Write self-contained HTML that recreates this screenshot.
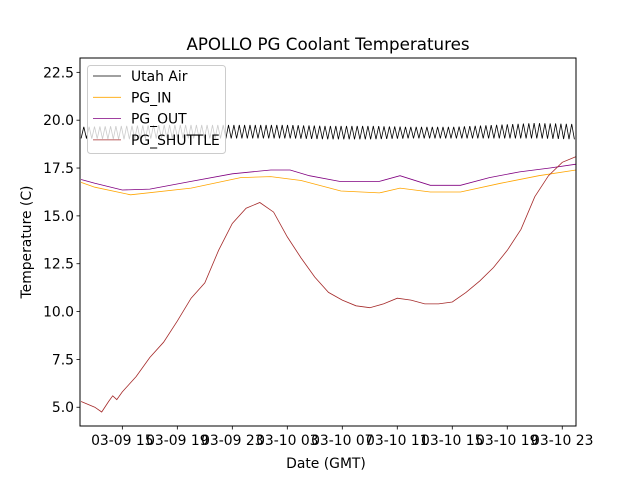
<!DOCTYPE html>
<html><head><meta charset="utf-8"><style>
html,body{margin:0;padding:0;background:#fff;width:640px;height:480px;overflow:hidden}
svg{display:block;font-family:"DejaVu Sans","Liberation Sans",sans-serif}
</style></head><body>
<svg id="chart" width="640" height="480" viewBox="0 0 640 480">
<rect width="640" height="480" fill="#fff"/>
<text x="328" y="50" font-size="16.7" text-anchor="middle">APOLLO PG Coolant Temperatures</text>
<g id="plot"></g>
<g id="axes"></g>
<text x="326" y="468" font-size="13.9" text-anchor="middle">Date (GMT)</text>
<text transform="translate(31,242) rotate(-90)" font-size="13.9" text-anchor="middle">Temperature (C)</text>
</svg>
<script>
// hours since 03-09 12:00
const xTickHours = [3,7,11,15,19,23,27,31,35];
const xTickLabels = ["03-09 15","03-09 19","03-09 23","03-10 03","03-10 07","03-10 11","03-10 15","03-10 19","03-10 23"];
const yTicks = [5.0,7.5,10.0,12.5,15.0,17.5,20.0,22.5];

const shuttleHours = [0,1,1.5,2,2.3,2.6,3,4,5,6,7,8,9,10,11,12,13,14,15,16,17,18,19,20,21,22,23,24,25,26,27,28,29,30,31,32,33,34,35,36];
const shuttleVals = [5.3,5.0,4.75,5.3,5.6,5.4,5.8,6.6,7.6,8.4,9.5,10.7,11.5,13.2,14.6,15.4,15.7,15.2,13.9,12.8,11.8,11.0,10.6,10.3,10.2,10.4,10.7,10.6,10.4,10.4,10.5,11.0,11.6,12.3,13.2,14.3,16.0,17.1,17.8,18.1];

const outHours = [0,1,3,5,8,11,13.8,15.2,16.6,18.8,21.7,23.2,25.4,27.6,29.7,31.9,34.1,36];
const outVals = [16.9,16.7,16.35,16.4,16.8,17.2,17.4,17.4,17.1,16.8,16.8,17.1,16.6,16.6,17.0,17.3,17.5,17.7];

const inHours = [0,1,3.6,8,11.6,13.8,16,18.9,21.7,23.2,25.4,27.6,30.5,33.3,36];
const inVals = [16.75,16.5,16.1,16.45,17.0,17.05,16.85,16.3,16.2,16.45,16.25,16.25,16.7,17.1,17.4];

const airHours = [0,3,6,9,12,15,18,21,24,27,30,33,36];
const airCenter = [19.35,19.35,19.4,19.4,19.4,19.4,19.35,19.35,19.35,19.35,19.4,19.45,19.4];
const airSwing = [0.3,0.35,0.35,0.35,0.35,0.35,0.35,0.35,0.3,0.3,0.35,0.4,0.4];

const L=80,R=576,T=58,B=426;
const X0=-0.08,X1=36.0,Y0=4.02,Y1=23.25;
const xs=h=>L+(h-X0)/(X1-X0)*(R-L);
const ys=v=>B-(v-Y0)/(Y1-Y0)*(B-T);
const NS="http://www.w3.org/2000/svg";
const plot=document.getElementById('plot'), axes=document.getElementById('axes');
function mk(tag,attrs,parent){const e=document.createElementNS(NS,tag);for(const k in attrs)e.setAttribute(k,attrs[k]);parent.appendChild(e);return e;}
function interp(hs,vs,h){for(let i=1;i<hs.length;i++){if(h<=hs[i]){const t=(h-hs[i-1])/(hs[i]-hs[i-1]);return vs[i-1]+t*(vs[i]-vs[i-1]);}}return vs[vs.length-1];}
function poly(hs,vs,color,name){
  const d=hs.map((h,i)=>(i?'L':'M')+xs(h).toFixed(1)+','+ys(vs[i]).toFixed(1)).join('');
  const p=mk('path',{d:d,fill:'none',stroke:color,'stroke-width':0.8},plot);
  
  
}
// Utah Air zigzag
(function(){
  const pts=[];let k=0;
  for(let h=0;h<=36;h+=0.195){const c=interp(airHours,airCenter,h),s=interp(airHours,airSwing,h);pts.push([h,c+(k%2?s:-s)]);k++;}
  poly(pts.map(p=>p[0]),pts.map(p=>p[1]),'#000','series-utah-air');
})();
poly(inHours,inVals,'orange','series-pg-in');
poly(outHours,outVals,'purple','series-pg-out');
poly(shuttleHours,shuttleVals,'#a52a2a','series-pg-shuttle');

// frame
const fr=mk('rect',{x:L,y:T,width:R-L,height:B-T,fill:'none',stroke:'#000','stroke-width':1},axes);


yTicks.forEach(v=>{
  const y=ys(v);
  const t=mk('line',{x1:L-3.5,x2:L,y1:y,y2:y,stroke:'#000','stroke-width':0.8},axes);
  
  
  const tx=mk('text',{x:L-6,y:y+5,'font-size':13.9,'text-anchor':'end'},axes);
  
  
  tx.textContent=v.toFixed(1);
});
xTickHours.forEach((h,i)=>{
  const x=xs(h);
  const t=mk('line',{x1:x,x2:x,y1:B,y2:B+3.5,stroke:'#000','stroke-width':0.8},axes);
  
  
  const tx=mk('text',{x:x,y:B+19,'font-size':13.9,'text-anchor':'middle'},axes);
  
  
  tx.textContent=xTickLabels[i];
});
// legend
const lg=mk('g',{},axes);


mk('rect',{x:87.5,y:65.5,width:138,height:88,rx:3,fill:'#fff','fill-opacity':0.8,stroke:'#ccc','stroke-width':1},lg);
const names=["Utah Air","PG_IN","PG_OUT","PG_SHUTTLE"], cols=['#000','orange','purple','#a52a2a'];
names.forEach((n,i)=>{
  const y=76+i*21.3;
  const e=mk('g',{},lg);
  
  
  mk('line',{x1:93,x2:121,y1:y,y2:y,stroke:cols[i],'stroke-width':0.8},e);
  const tx=mk('text',{x:131,y:y+5,'font-size':13.9},e);
  tx.textContent=n;
});
</script>
</body></html>
